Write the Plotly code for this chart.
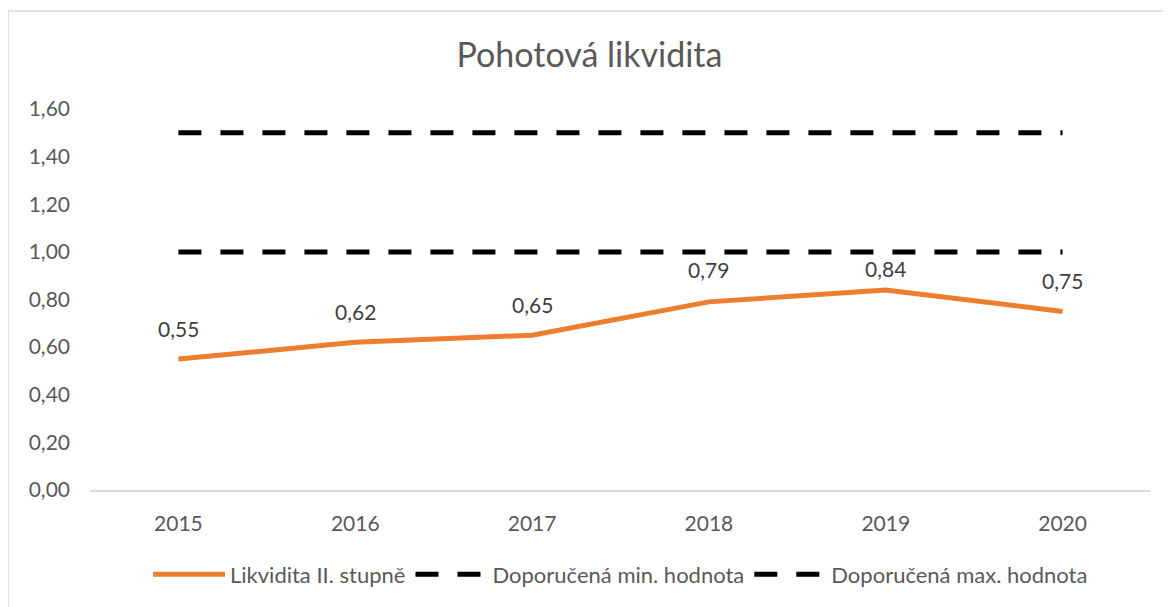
import plotly.graph_objects as go

years = ["2015", "2016", "2017", "2018", "2019", "2020"]
likvidita = [0.55, 0.62, 0.65, 0.79, 0.84, 0.75]
min_hodnota = [1.0, 1.0, 1.0, 1.0, 1.0, 1.0]
max_hodnota = [1.5, 1.5, 1.5, 1.5, 1.5, 1.5]
y_ticks = [0.0, 0.2, 0.4, 0.6, 0.8, 1.0, 1.2, 1.4, 1.6]
label_shift = [31, 31, 31, 32, 21, 31]

FONT = "Lato, Calibri, Carlito, sans-serif"
GRAY = "#595959"

# page body has an 8px margin
W, H = 1163, 599
ML, MR, MT, MB = 82, 20, 101, 115

fig = go.Figure()
fig.add_trace(go.Scatter(
    x=years, y=likvidita, mode="lines", name="Likvidita II. stupně",
    line=dict(color="#ED7D31", width=5),
))
fig.add_trace(go.Scatter(
    x=years, y=min_hodnota, mode="lines", name="Doporučená min. hodnota",
    line=dict(color="#000000", width=5, dash="23px,19px"),
))
fig.add_trace(go.Scatter(
    x=years, y=max_hodnota, mode="lines", name="Doporučená max. hodnota",
    line=dict(color="#000000", width=5, dash="23px,19px"),
))

for i, yv in enumerate(likvidita):
    fig.add_annotation(
        x=i, y=yv, text=f"{yv:.2f}".replace(".", ","), showarrow=False,
        yshift=label_shift[i], font=dict(family=FONT, size=21, color="#404040"),
    )

pw = W - ML - MR
ph = H - MT - MB
fig.add_shape(
    type="rect", xref="paper", yref="paper",
    x0=(0 - ML) / pw, x1=(W + 20 - ML) / pw,
    y0=(H - MB - (H + 20)) / ph, y1=(H - MB - 2.5) / ph,
    line=dict(color="#D9D9D9", width=1.5), fillcolor="rgba(0,0,0,0)", layer="below",
)

fig.update_layout(
    width=W, height=H,
    margin=dict(l=ML, r=MR, t=MT, b=MB),
    paper_bgcolor="white", plot_bgcolor="white",
    separators=", ",
    title=dict(text="Pohotová likvidita", x=0.5, xanchor="center", y=1 - 47 / H, yanchor="middle",
               font=dict(family=FONT, size=34, color=GRAY)),
    font=dict(family=FONT, size=21, color=GRAY),
    showlegend=True,
    legend=dict(orientation="h", x=0.5, xanchor="center", y=-(569 - (H - MB)) / ph, yanchor="middle",
                font=dict(family=FONT, size=22, color=GRAY), itemwidth=72,
                bgcolor="rgba(0,0,0,0)"),
    xaxis=dict(
        type="category", range=[-0.5, 5.5], showgrid=False, zeroline=False,
        showline=True, linecolor="#D9D9D9", linewidth=1.5, ticks="",
        ticklabelstandoff=14, tickfont=dict(family=FONT, size=21, color=GRAY),
    ),
    yaxis=dict(
        range=[0, 1.6], tickvals=y_ticks, tickformat=".2f", showgrid=False,
        zeroline=False, showline=False, ticks="", ticklabelstandoff=19,
        tickfont=dict(family=FONT, size=21, color=GRAY),
    ),
)

fig.write_html("out.html")
